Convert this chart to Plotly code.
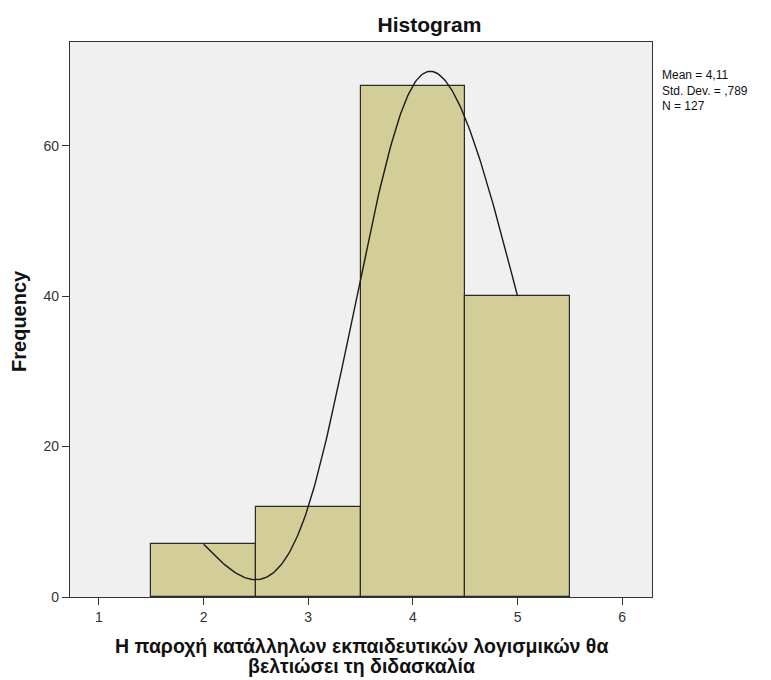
import numpy as np
import plotly.graph_objects as go

# Response values (Likert scale) and their frequencies
scores = [2, 3, 4, 5]
counts = [7, 12, 68, 40]
x_ticks = [1, 2, 3, 4, 5, 6]
y_ticks = [0, 20, 40, 60]

n = sum(counts)
mean = sum(s * c for s, c in zip(scores, counts)) / n
var = sum(c * (s - mean) ** 2 for s, c in zip(scores, counts)) / (n - 1)
sd = var ** 0.5


def spss_num(v, digits):
    txt = f"{v:.{digits}f}".replace(".", ",")
    return txt[1:] if txt.startswith("0,") else txt


def natural_spline(xs, ys, samples=240):
    """Natural cubic spline through the bar tops, evaluated densely."""
    xs = np.asarray(xs, float)
    ys = np.asarray(ys, float)
    k = len(xs)
    h = np.diff(xs)
    A = np.zeros((k, k))
    b = np.zeros(k)
    A[0, 0] = A[-1, -1] = 1.0
    for i in range(1, k - 1):
        A[i, i - 1] = h[i - 1]
        A[i, i] = 2 * (h[i - 1] + h[i])
        A[i, i + 1] = h[i]
        b[i] = 6 * ((ys[i + 1] - ys[i]) / h[i] - (ys[i] - ys[i - 1]) / h[i - 1])
    M = np.linalg.solve(A, b)
    xx = np.linspace(xs[0], xs[-1], samples)
    idx = np.clip(np.searchsorted(xs, xx) - 1, 0, k - 2)
    x0, x1 = xs[idx], xs[idx + 1]
    hh = x1 - x0
    a = (x1 - xx) / hh
    c = (xx - x0) / hh
    yy = (a * ys[idx] + c * ys[idx + 1]
          + ((a ** 3 - a) * M[idx] + (c ** 3 - c) * M[idx + 1]) * hh ** 2 / 6)
    return xx, yy


FONT = "Liberation Sans, Arial, sans-serif"
TXT = "#111"

fig = go.Figure()
fig.add_trace(go.Bar(
    x=scores, y=counts, width=1,
    marker=dict(color="#D3CE97", line=dict(color="#2a2a2a", width=1.2)),
    hoverinfo="x+y", showlegend=False,
))
cx, cy = natural_spline(scores, counts)
fig.add_trace(go.Scatter(
    x=cx, y=cy, mode="lines",
    line=dict(color="#1a1a1a", width=1.4),
    hoverinfo="skip", showlegend=False,
))

# Summary statistics beside the plot
stats_text = "<br>".join([f"Mean = {spss_num(mean, 2)}",
                          f"Std. Dev. = {spss_num(sd, 3)}",
                          f"N = {n}"])
fig.add_annotation(
    xref="paper", yref="paper", x=1.0155, y=0.955,
    xanchor="left", yanchor="top", align="left", showarrow=False,
    text=stats_text, borderpad=0,
    font=dict(family=FONT, size=12, color=TXT),
)

# Axis titles
fig.add_annotation(
    xref="paper", yref="paper", x=0.5, y=-0.0883, xanchor="center",
    yanchor="middle", showarrow=False, borderpad=0,
    text="<b>Η παροχή κατάλληλων εκπαιδευτικών λογισμικών θα</b>",
    font=dict(family=FONT, size=19.5, color=TXT),
)
fig.add_annotation(
    xref="paper", yref="paper", x=0.5, y=-0.1243, xanchor="center",
    yanchor="middle", showarrow=False, borderpad=0,
    text="<b>βελτιώσει τη διδασκαλία</b>",
    font=dict(family=FONT, size=19.5, color=TXT),
)
fig.add_annotation(
    xref="paper", yref="paper", x=-0.088, y=0.497, xanchor="center",
    yanchor="middle", showarrow=False, textangle=-90,
    text="<b>Frequency</b>",
    font=dict(family=FONT, size=20, color=TXT),
)

fig.update_layout(
    width=771, height=680,
    margin=dict(l=70, r=119, t=42, b=83),
    paper_bgcolor="white", plot_bgcolor="#F0F0F0",
    bargap=0,
    font=dict(family=FONT, size=14, color="#333"),
    title=dict(text="<b>Histogram</b>", x=0.557, xanchor="center",
               y=0.964, yanchor="middle",
               font=dict(family=FONT, size=21, color=TXT)),
    xaxis=dict(
        range=[0.723, 6.285], tickvals=x_ticks, showgrid=False, zeroline=False,
        ticks="outside", ticklen=7, tickcolor="#333", tickwidth=1.2,
        showline=True, linecolor="#333", linewidth=1.2, mirror=True,
        tickfont=dict(size=14, color="#333"),
    ),
    yaxis=dict(
        range=[0, 73.8], tickvals=y_ticks, showgrid=False, zeroline=False,
        ticks="outside", ticklen=7, tickcolor="#333", tickwidth=1.2,
        showline=True, linecolor="#333", linewidth=1.2, mirror=True,
        tickfont=dict(size=14, color="#333"),
    ),
)

fig.write_html("out.html")
